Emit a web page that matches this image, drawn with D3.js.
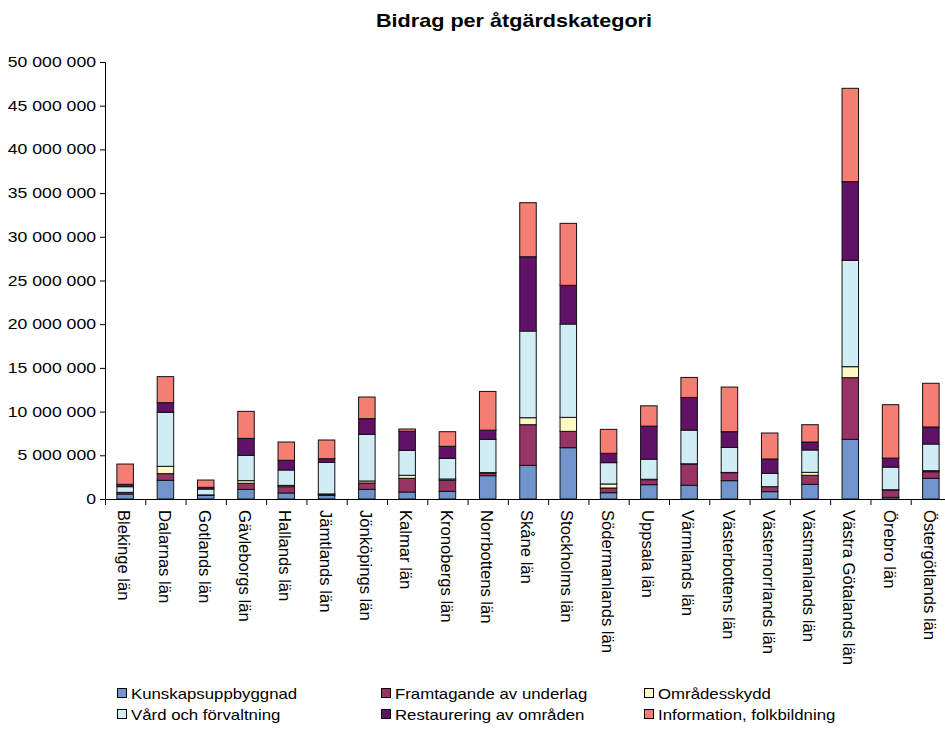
<!DOCTYPE html>
<html lang="sv">
<head>
<meta charset="UTF-8" />
<title>Bidrag per åtgärdskategori</title>
<script src="https://d3js.org/d3.v7.min.js"></script>
<style>
  html, body { margin: 0; padding: 0; background: #fff; }
  svg { display: block; font-family: "Liberation Sans", Arial, sans-serif; }
</style>
</head>
<body>
<div id="chart"></div>
<script>
// counties (x categories)
const counties = [
  "Blekinge län", "Dalarnas län", "Gotlands län", "Gävleborgs län", "Hallands län",
  "Jämtlands län", "Jönköpings län", "Kalmar län", "Kronobergs län", "Norrbottens län",
  "Skåne län", "Stockholms län", "Södermanlands län", "Uppsala län", "Värmlands län",
  "Västerbottens län", "Västernorrlands län", "Västmanlands län", "Västra Götalands län",
  "Örebro län", "Östergötlands län"
];

const seriesNames = [
  "Kunskapsuppbyggnad", "Framtagande av underlag", "Områdesskydd",
  "Vård och förvaltning", "Restaurering av områden", "Information, folkbildning"
];
const seriesColors = ["#7094cc", "#993366", "#fdf8c4", "#d0ecf5", "#601266", "#f47e74"];

// values in kronor
const kunskap = [570000, 2140000, 420000, 1100000, 690000, 420000, 1100000, 800000, 880000, 2670000, 3850000, 5870000, 720000, 1640000, 1570000, 2100000, 840000, 1680000, 6830000, 190000, 2370000];
const framtag = [190000, 760000, 50000, 700000, 720000, 110000, 730000, 1570000, 1260000, 300000, 4650000, 1870000, 540000, 570000, 2430000, 910000, 570000, 1030000, 7050000, 840000, 750000];
const omrade  = [0, 840000, 0, 300000, 150000, 50000, 230000, 340000, 150000, 50000, 800000, 1600000, 460000, 50000, 30000, 30000, 0, 340000, 1260000, 30000, 120000];
const vard    = [650000, 6180000, 670000, 2900000, 1760000, 3620000, 5340000, 2860000, 2360000, 3800000, 9920000, 10680000, 2440000, 2300000, 3850000, 2860000, 1530000, 2560000, 12170000, 2590000, 3050000];
const restaur = [270000, 1100000, 200000, 1940000, 1110000, 410000, 1790000, 2180000, 1380000, 1060000, 8500000, 4430000, 1070000, 3780000, 3740000, 1800000, 1640000, 910000, 9000000, 1030000, 1950000];
const info    = [2320000, 2980000, 830000, 3090000, 2090000, 2140000, 2480000, 260000, 1670000, 4430000, 6180000, 7090000, 2740000, 2320000, 2290000, 5110000, 2970000, 1980000, 10680000, 6110000, 5000000];

const yTicks = [0, 5e6, 10e6, 15e6, 20e6, 25e6, 30e6, 35e6, 40e6, 45e6, 50e6];

const W = 945, H = 729;
const series = [kunskap, framtag, omrade, vard, restaur, info];

// build rows for d3.stack
const rows = counties.map((c, i) => {
  const r = { county: c };
  seriesNames.forEach((s, j) => { r[s] = series[j][i]; });
  return r;
});

const svg = d3.select("#chart").append("svg")
  .attr("width", W).attr("height", H);

const x = d3.scaleBand().domain(counties).range([105, 951]).padding(0);
const y = d3.scaleLinear().domain([0, 50e6]).range([499, 62]);
const sx = 1.2; // horizontal stretch of the source rendering

const loc = d3.formatLocale({ decimal: ",", thousands: "\u00a0", grouping: [3], currency: ["", " kr"] });
const fmt = loc.format(",");

// title
svg.append("text")
  .attr("transform", `translate(514,27) scale(${sx},1)`)
  .attr("text-anchor", "middle")
  .attr("font-size", 18).attr("font-weight", "bold")
  .text("Bidrag per åtgärdskategori");

// stacked bars
const stacked = d3.stack().keys(seriesNames)(rows);
const barW = 16.5;
svg.append("g").selectAll("g")
  .data(stacked)
  .join("g")
  .attr("fill", (d, i) => seriesColors[i])
  .selectAll("rect")
  .data(d => d.filter(p => p[1] - p[0] > 0))
  .join("rect")
  .attr("x", d => x(d.data.county) + x.bandwidth() / 2 - barW / 2)
  .attr("y", d => y(d[1]))
  .attr("width", barW)
  .attr("height", d => y(d[0]) - y(d[1]))
  .attr("stroke", "#111")
  .attr("stroke-width", 1);

// y axis
const yAxis = svg.append("g").attr("transform", "translate(105,0)")
  .call(d3.axisLeft(y).tickValues(yTicks).tickSize(5).tickFormat(""));
yAxis.select(".domain").attr("stroke", "#000");
yAxis.selectAll(".tick line").attr("stroke", "#000");

svg.append("g").selectAll("text")
  .data(yTicks)
  .join("text")
  .attr("transform", d => `translate(96,${y(d) + 5}) scale(1.26,1)`)
  .attr("text-anchor", "end")
  .attr("font-size", 14)
  .text(d => fmt(d));

// x axis with ticks at category boundaries
svg.append("line")
  .attr("x1", 105).attr("x2", 951).attr("y1", 499.5).attr("y2", 499.5)
  .attr("stroke", "#000");
svg.append("g").selectAll("line")
  .data(counties.concat(["end"]))
  .join("line")
  .attr("x1", (d, i) => 105 + i * x.step() + 0.5)
  .attr("x2", (d, i) => 105 + i * x.step() + 0.5)
  .attr("y1", 499).attr("y2", 505)
  .attr("stroke", "#000");

svg.append("g").selectAll("text")
  .data(counties)
  .join("text")
  .attr("transform", d => `translate(${x(d) + x.bandwidth() / 2 - 1},510) rotate(90)`)
  .attr("dy", "0.35em")
  .attr("font-size", 16.6)
  .text(d => d);

// legend
const legendPos = [
  [117, 688], [381, 688], [644, 688],
  [117, 709], [381, 709], [644, 709]
];
const legend = svg.append("g").selectAll("g")
  .data(seriesNames)
  .join("g")
  .attr("transform", (d, i) => `translate(${legendPos[i][0]},${legendPos[i][1]})`);
legend.append("rect")
  .attr("x", 0.5).attr("y", 0.5).attr("width", 9).attr("height", 9)
  .attr("fill", (d, i) => seriesColors[i])
  .attr("stroke", "#000");
legend.append("text")
  .attr("transform", `translate(14,10.5) scale(${sx},1)`)
  .attr("font-size", 14)
  .text(d => d);
</script>
</body>
</html>
